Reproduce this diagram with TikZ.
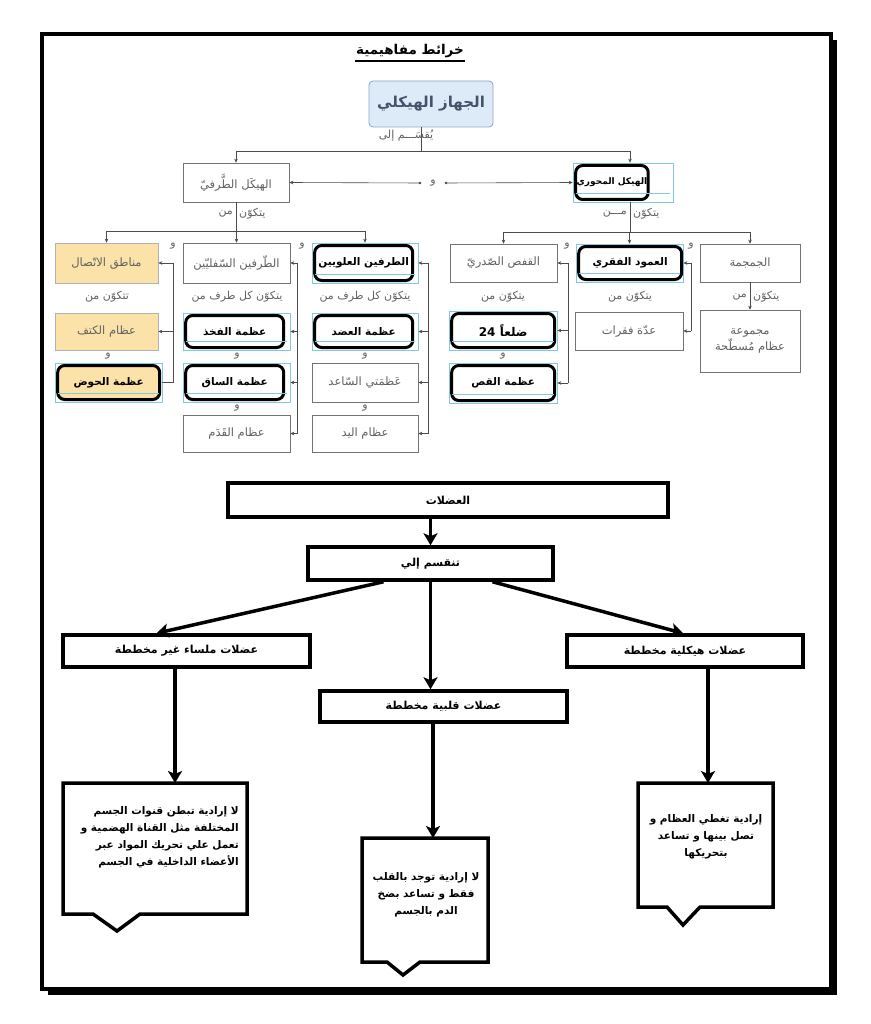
\documentclass[tikz,border=0pt]{standalone}
\usepackage{fontspec}
\newfontfamily\ar[Script=Arabic]{DejaVu Sans}
\TeXXeTstate=1
\usetikzlibrary{arrows.meta}
\definecolor{orng}{HTML}{FBE2A8}
\definecolor{jfill}{HTML}{DDEAF8}
\definecolor{jdraw}{HTML}{8EA6C6}
\definecolor{jtext}{HTML}{44536B}
\definecolor{cyfr}{HTML}{7FCBDB}
\newcommand\rtl[1]{\beginR #1\endR}
% style, name, x1,y1,x2,y2, text
\newcommand\mkbox[7]{\node[#1, minimum width={#5-#3}, minimum height={#6-#4}] (#2) at ({(#3+#5)/2},{(#4+#6)/2}) {#7};}
% name, x1,y1,x2,y2, thick right x, fill, text
\newcommand\mkbold[8]{%
  \node[cyanfr, minimum width={#4-#2}, minimum height={#5-#3}] (#1) at ({(#2+#4)/2},{(#3+#5)/2}) {};
  \node[boldb, fill=#7, minimum width={#6-#2-3}, minimum height={#5-#3-5}, anchor=west] at ([xshift=1.5pt]#1.west) {#8};
  \draw[cyfr, line width=0.4pt] ([xshift=3pt,yshift=9pt]#1.south west) -- ([xshift=-3pt,yshift=9pt]#1.south east);}
\tikzset{
  plain/.style={draw=black!55, line width=0.6pt, fill=white, text=black!62, font=\ar\fontsize{11.5}{14}\selectfont, inner sep=1pt, align=center},
  orbox/.style={plain, fill=orng, draw=black!30},
  jbox/.style={draw=jdraw, fill=jfill, rounded corners=4pt, line width=0.8pt, text=jtext, font=\ar\bfseries\fontsize{15}{17}\selectfont},
  cyanfr/.style={draw=cyfr, line width=0.6pt, inner sep=0pt},
  boldb/.style={draw=black, line width=3pt, rounded corners=7pt, text=black, font=\ar\bfseries\fontsize{10.5}{12}\selectfont, inner sep=1pt},
  lab/.style={text=black!62, font=\ar\fontsize{11}{13}\selectfont, inner sep=1pt},
  wlab/.style={text=black!62, font=\ar\fontsize{11}{12}\selectfont, inner sep=1pt},
  conn/.style={draw=black!70, line width=0.6pt},
  tip/.style={-{Stealth[length=4pt,width=3.5pt]}},
  mbox/.style={draw=black, line width=3.5pt, fill=white, font=\ar\bfseries\fontsize{11}{13}\selectfont, inner sep=0pt},
  marr/.style={line width=3.5pt, -{Stealth[length=12pt,width=14pt,inset=3pt]}},
  nline/.style={line width=3.5pt, line join=miter},
  notebox/.style={draw=none, inner sep=0pt, outer sep=0pt},
  ntext/.style={font=\ar\bfseries\fontsize{10.5}{17}\selectfont, inner sep=0pt},
}
\begin{document}
\begin{tikzpicture}[x=1pt,y=-1pt]
\useasboundingbox (0,0) rectangle (870,1024);
% outer frame with shadow
\fill[black] (48,40) rectangle (837,995);
\draw[line width=4pt, fill=white] (42,34) rectangle (831,989);
% title
\node[font=\ar\bfseries\fontsize{13.5}{15}\selectfont, inner sep=1pt] (title) at (410,51) {\rtl{خرائط مفاهيمية}};
\draw[line width=1.3pt] ([yshift=-2pt]title.south west) -- ([yshift=-2pt]title.south east);

% ---------- skeleton map ----------
\mkbox{jbox}{jihaz}{369}{81}{493}{127}{\rtl{الجهاز الهيكلي}}
\mkbox{plain}{taraf}{183}{163}{289}{202}{\rtl{الهيكَل الطَّرفيّ}}
\mkbold{mihwar}{573}{163}{673}{202}{648}{white}{\fontsize{9}{11}\selectfont\rtl{الهيكل المحوري}}

\mkbox{plain}{qafas}{450}{244}{557}{282}{\rtl{القفص الصّدريّ}}
\mkbold{amud}{576}{244}{683}{282}{682}{white}{\rtl{العمود الفقري}}
\mkbox{plain}{jumjuma}{700}{244}{800}{282}{الجمجمة}
\mkbold{adla}{449}{311}{557}{350}{555}{white}{\fontsize{12}{14}\selectfont\rtl{ضلعاً \beginL 24\endL{}}}
\mkbox{plain}{fiqarat}{575}{312}{683}{350}{\rtl{عدّة فقرات}}
\mkbox{plain}{majmua}{700}{310}{800}{372}{مجموعة\\\rtl{عظام مُسطّحة}}
\mkbold{qass}{449}{363}{557}{403}{555}{white}{\rtl{عظمة القص}}

\mkbox{orbox}{manatiq}{55}{243}{158}{283}{\rtl{مناطق الاتّصال}}
\mkbox{plain}{sufli}{183}{243}{290}{283}{\rtl{الطّرفين السّفليّين}}
\mkbold{ulwi}{312}{243}{418}{283}{413}{white}{\rtl{الطرفين العلويين}}
\mkbox{orbox}{katif}{55}{313}{158}{350}{\rtl{عظام الكتف}}
\mkbold{fakhdh}{183}{313}{290}{350}{284}{white}{\rtl{عظمة الفخذ}}
\mkbold{adud}{312}{313}{418}{350}{413}{white}{\rtl{عظمة العضد}}
\mkbold{hawd}{55}{363}{162}{402}{160}{orng}{\rtl{عظمة الحوض}}
\mkbold{saq}{183}{363}{290}{402}{284}{white}{\rtl{عظمة الساق}}
\mkbox{plain}{saaid}{312}{363}{418}{402}{\rtl{عَظمَتي السّاعد}}
\mkbox{plain}{qadam}{183}{415}{290}{452}{\rtl{عظام القَدَم}}
\mkbox{plain}{yad}{312}{415}{418}{452}{\rtl{عظام اليد}}

% top connectors
\coordinate (j1) at (421,151);
\draw[conn] (jihaz.south -| j1) -- (j1);
\node[lab] (yuqsam) at (406,136) {\rtl{يُقسَـــم إلى}};
\draw[conn,tip] (j1) -| (taraf.north);
\draw[conn,tip] (j1) -| ([xshift=7pt]mihwar.north);

\node[wlab] (w0) at (433,183) {و};
\draw[conn,{Stealth[length=4pt,width=3.5pt]}-{Circle[length=2.5pt]}] (taraf.east) -- ([xshift=-8pt]w0.west);
\draw[conn,{Stealth[length=4pt,width=3.5pt]}-{Circle[length=2.5pt]}] (mihwar.west) -- ([xshift=8pt]w0.east);

% taraf -> limbs
\coordinate (t1) at (236,231);
\draw[conn] (taraf.south) -- (t1);
\node[lab, anchor=west] at (238,214) {يتكوّن};
\node[lab, anchor=east] at (234,214) {من};
\draw[conn,tip] (t1) -| (manatiq.north);
\draw[conn,tip] (t1) -| (sufli.north);
\draw[conn,tip] (t1) -| (ulwi.north);

% mihwar -> parts
\coordinate (m1) at (630,232);
\draw[conn] ([xshift=7pt]mihwar.south) -- (m1);
\node[lab, anchor=west] at (632,214) {يتكوّن};
\node[lab, anchor=east] at (628,214) {مـــن};
\draw[conn,tip] (m1) -| (qafas.north);
\draw[conn,tip] (m1) -| (amud.north);
\draw[conn,tip] (m1) -| (jumjuma.north);

% "and" labels
\node[wlab] at (567,246) {و};
\node[wlab] at (691,246) {و};
\node[wlab] at (173,246) {و};
\node[wlab] at (302,246) {و};
\node[wlab] at (503,356) {و};
\node[wlab] at (108,356) {و};
\node[wlab] at (237,356) {و};
\node[wlab] at (365,356) {و};
\node[wlab] at (237,408) {و};
\node[wlab] at (365,408) {و};

% "consists of" labels
\node[lab] at (107,297) {\rtl{تتكوّن من}};
\node[lab] at (237,297) {\rtl{يتكوّن كل طرف من}};
\node[lab] at (365,297) {\rtl{يتكوّن كل طرف من}};
\node[lab] at (503,297) {\rtl{يتكوّن من}};
\node[lab] at (630,297) {\rtl{يتكوّن من}};
\node[lab, anchor=west] at (752,297) {يتكوّن};
\node[lab, anchor=east] at (748,297) {من};
\draw[conn,tip] (jumjuma.south) -- (majmua.north);

% side buses
\path (qafas.east) ++(11,0) coordinate (b1);
\draw[conn] (b1) -- (b1 |- qass.east);
\draw[conn,tip] (b1) -- (qafas.east);
\draw[conn,tip] (b1 |- adla.east) -- (adla.east);
\draw[conn,tip] (b1 |- qass.east) -- (qass.east);

\path (amud.east) ++(8,0) coordinate (b2);
\draw[conn] (b2) -- (b2 |- fiqarat.east);
\draw[conn,tip] (b2) -- (amud.east);
\draw[conn,tip] (b2 |- fiqarat.east) -- (fiqarat.east);

\path (manatiq.east) ++(15,0) coordinate (b3);
\draw[conn] (b3) -- (b3 |- hawd.east) -- (hawd.east);
\draw[conn,tip] (b3) -- (manatiq.east);
\draw[conn,tip] (b3 |- katif.east) -- (katif.east);

\path (sufli.east) ++(7,0) coordinate (b4);
\draw[conn] (b4) -- (b4 |- qadam.east);
\draw[conn,tip] (b4) -- (sufli.east);
\draw[conn,tip] (b4 |- fakhdh.east) -- (fakhdh.east);
\draw[conn,tip] (b4 |- saq.east) -- (saq.east);
\draw[conn,tip] (b4 |- qadam.east) -- (qadam.east);

\path (ulwi.east) ++(10,0) coordinate (b5);
\draw[conn] (b5) -- (b5 |- yad.east);
\draw[conn,tip] (b5) -- (ulwi.east);
\draw[conn,tip] (b5 |- adud.east) -- (adud.east);
\draw[conn,tip] (b5 |- saaid.east) -- (saaid.east);
\draw[conn,tip] (b5 |- yad.east) -- (yad.east);

% ---------- muscles ----------
\mkbox{mbox}{udulat}{228}{483}{668}{517}{العضلات}
\mkbox{mbox}{tanqasim}{308}{547}{553}{580}{\rtl{تنقسم إلي}}
\mkbox{mbox}{malsa}{63}{635}{310}{667}{\rtl{عضلات ملساء غير مخططة}}
\mkbox{mbox}{haykali}{567}{635}{803}{667}{\rtl{عضلات هيكلية مخططة}}
\mkbox{mbox}{qalbi}{320}{691}{567}{722}{\rtl{عضلات قلبية مخططة}}

\draw[marr] (tanqasim.north |- udulat.south) -- (tanqasim.north);
\draw[marr] ([xshift=-47pt]tanqasim.south) -- ([xshift=-30pt]malsa.north);
\draw[marr] (tanqasim.south) -- (tanqasim.south |- qalbi.north);
\draw[marr] ([xshift=62pt]tanqasim.south) -- ([xshift=-2pt]haykali.north);

% notes
\node[notebox, minimum width=184, minimum height=131] (n1) at (155,848.5) {};
\draw[nline] (n1.north west) -- (n1.north east) -- (n1.south east) -- ([xshift=77pt]n1.south west) -- ([xshift=54pt,yshift=-17pt]n1.south west) -- ([xshift=30pt]n1.south west) -- (n1.south west) -- cycle;
\node[ntext, align=right, anchor=north east] (t1n) at (239,806) {\rtl{لا إرادية تبطن قنوات الجسم}\\\rtl{المختلفة مثل القناة الهضمية و}\\\rtl{تعمل علي تحريك المواد عبر}\\\rtl{الأعضاء الداخلية في الجسم}};

\node[notebox, minimum width=126, minimum height=124] (n2) at (425,900) {};
\draw[nline] (n2.north west) -- (n2.north east) -- (n2.south east) -- ([xshift=58pt]n2.south west) -- ([xshift=41pt,yshift=-13pt]n2.south west) -- ([xshift=25pt]n2.south west) -- (n2.south west) -- cycle;
\node[ntext, align=center] (t2n) at (426,895) {\rtl{لا إرادية توجد بالقلب}\\\rtl{فقط و تساعد بضخ}\\\rtl{الدم بالجسم}};

\node[notebox, minimum width=135, minimum height=124] (n3) at (705.5,845) {};
\draw[nline] (n3.north west) -- (n3.north east) -- (n3.south east) -- ([xshift=62pt]n3.south west) -- ([xshift=45pt,yshift=-18pt]n3.south west) -- ([xshift=29pt]n3.south west) -- (n3.south west) -- cycle;
\node[ntext, align=center] (t3n) at (706,837) {\rtl{إرادية تغطي العظام و}\\\rtl{تصل بينها و تساعد}\\\rtl{بتحريكها}};

\draw[marr] ([xshift=-11.5pt]malsa.south) -- ([xshift=-11.5pt]malsa.south |- n1.north);
\draw[marr] ([xshift=-10.5pt]qalbi.south) -- ([xshift=-10.5pt]qalbi.south |- n2.north);
\draw[marr] ([xshift=23pt]haykali.south) -- ([xshift=23pt]haykali.south |- n3.north);
\end{tikzpicture}
\end{document}
